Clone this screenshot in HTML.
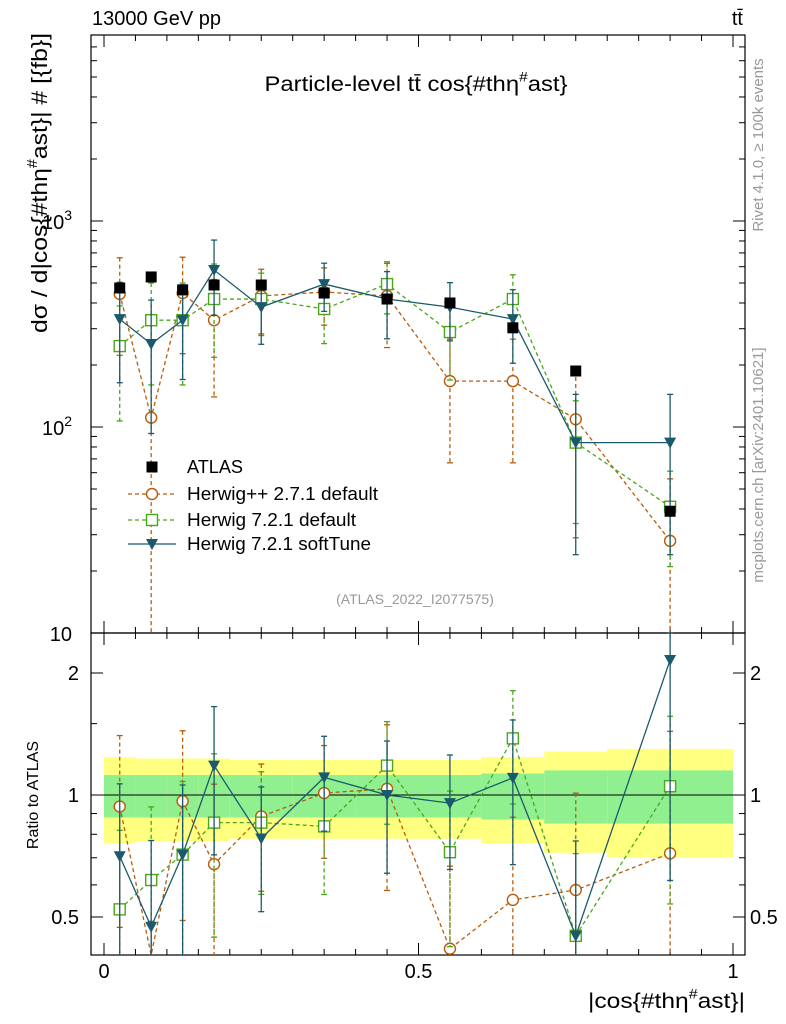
<!DOCTYPE html>
<html><head><meta charset="utf-8">
<style>
body{margin:0;background:#fff;}
svg{display:block;font-family:"Liberation Sans",sans-serif;}
</style></head>
<body>
<svg id="c" width="786" height="1024" viewBox="0 0 786 1024"></svg>
<script>
const binEdges=[0,0.05,0.1,0.15,0.2,0.3,0.4,0.5,0.6,0.7,0.8,1.0];
const xCenters=[0.025,0.075,0.125,0.175,0.25,0.35,0.45,0.55,0.65,0.75,0.9];
const atlas=[473,535,463,489,489,447,418,400,303,187,39];
const hpp=[443,111,447,330,433,452,433,167,167,109,28];
const hppErr=[220,150,220,190,150,140,190,100,100,80,28];
const h7def=[247,330,330,418,418,374,494,289,418,84,41];
const h7defErr=[140,170,170,200,140,120,140,120,130,50,20];
const h7soft=[334,253,330,578,382,494,418,382,334,84,84];
const h7softErr=[170,160,160,230,130,130,150,120,130,60,60];
const bandTot=[0.24,0.23,0.23,0.23,0.22,0.22,0.22,0.22,0.24,0.28,0.3];
const bandStat=[0.12,0.12,0.12,0.12,0.12,0.12,0.12,0.12,0.13,0.15,0.15];
const xTickLabels=["0","0.5","1"];
const yTickLabels=["10","10","10"];

const NS="http://www.w3.org/2000/svg";
const svg=document.getElementById('c');
function el(t,a,p){const e=document.createElementNS(NS,t);for(const k in a)e.setAttribute(k,a[k]);(p||svg).appendChild(e);return e;}
const X0=91,X1=745,MT=35,MB=633,RB=955;
const xs=v=>104+629*v;
const ym=v=>221-206*(Math.log10(Math.max(v,1e-3))-3);
const yr=r=>795-122*Math.log2(Math.max(r,1e-3));
const cm=(y)=>Math.max(MT,Math.min(MB,y));
const cr=(y)=>Math.max(MB,Math.min(RB,y));

const gb=el('g',{});


for(let i=0;i<xCenters.length;i++){
  const xa=xs(binEdges[i]),xb=xs(binEdges[i+1]);
  const r1=el('rect',{x:xa,y:yr(1+bandTot[i]),width:xb-xa,height:yr(1-bandTot[i])-yr(1+bandTot[i]),fill:'#ffff80'},gb);
  
  
  const r2=el('rect',{x:xa,y:yr(1+bandStat[i]),width:xb-xa,height:yr(1-bandStat[i])-yr(1+bandStat[i]),fill:'#90f090'},gb);
  
  
}
el('line',{x1:X0,x2:X1,y1:yr(1),y2:yr(1),stroke:'#000','stroke-width':1});

const f1=el('rect',{x:X0,y:MT,width:X1-X0,height:MB-MT,fill:'none',stroke:'#000','stroke-width':1.2});


const f2=el('rect',{x:X0,y:MB,width:X1-X0,height:RB-MB,fill:'none',stroke:'#000','stroke-width':1.2});



for(let k=0;k<=20;k++){const v=k*0.05;const x=xs(v);const L=(k%10==0)?12:6;
  for(const[yb,yt] of [[MB,MT],[RB,MB]]){el('line',{x1:x,x2:x,y1:yb,y2:yb-L,stroke:'#000'});el('line',{x1:x,x2:x,y1:yt,y2:yt+L,stroke:'#000'});}}
xTickLabels.forEach((t,i)=>{const e=el('text',{x:xs(i*0.5),y:978,'font-size':20,'text-anchor':'middle'});e.textContent=t;
  
  });

function sup(parent,pre,post,fs){const t1=el('tspan',{},parent);t1.textContent=pre;const s=el('tspan',{dy:-fs*0.45,'font-size':fs*0.65},parent);s.textContent='#';const t2=el('tspan',{dy:fs*0.45},parent);t2.textContent=post;}

const xt=el('text',{x:745,y:1008,'font-size':21,'text-anchor':'end',textLength:157,lengthAdjust:'spacingAndGlyphs'});
sup(xt,'|cos{#thη','ast}|',21);



for(let d=1;d<=3;d++){for(let m=1;m<10;m++){const v=m*Math.pow(10,d);const y=ym(v);if(y<MT||y>MB)continue;const L=m==1?12:6;
  el('line',{x1:X0,x2:X0+L,y1:y,y2:y,stroke:'#000'});el('line',{x1:X1,x2:X1-L,y1:y,y2:y,stroke:'#000'});}}
yTickLabels.forEach((t,i)=>{const d=i+1;const g=el('text',{x:72,y:ym(Math.pow(10,d))+8,'font-size':20,'text-anchor':'end'});
  
  
  g.textContent=t; if(d>1){const s=el('tspan',{dy:-9,'font-size':14},g);s.textContent=String(d);}});
[0.5,0.6,0.7,0.8,0.9,1,1.5,2].forEach(r=>{const y=yr(r);const L=(r==0.5||r==1||r==2)?12:6;
  el('line',{x1:X0,x2:X0+L,y1:y,y2:y,stroke:'#000'});el('line',{x1:X1,x2:X1-L,y1:y,y2:y,stroke:'#000'});});
[["0.5",0.5],["1",1],["2",2]].forEach(([t,r])=>{for(const [x,a] of [[79,'end'],[750,'start']]){const e=el('text',{x:x,y:yr(r)+7,'font-size':20,'text-anchor':a});e.textContent=t;
  
  }});

function series(vals,errs,color,dash,marker,name,isRatio){
  const g=el('g',{});
  
  
  const Y=isRatio?(i,v)=>yr(v/atlas[i]):(i,v)=>ym(v);
  const C=isRatio?cr:cm;
  for(let i=0;i<vals.length;i++){
    if(errs){const x=xs(xCenters[i]);const yt=C(Y(i,vals[i]+errs[i]));const yb=C(vals[i]-errs[i]>0?Y(i,vals[i]-errs[i]):1e4);
      el('line',{x1:x,x2:x,y1:yt,y2:yb,stroke:color,'stroke-width':1.3,'stroke-dasharray':dash||'none'},g);
      el('line',{x1:x-3,x2:x+3,y1:yt,y2:yt,stroke:color,'stroke-width':1.3},g);
      if(yb<(isRatio?RB:MB))el('line',{x1:x-3,x2:x+3,y1:yb,y2:yb,stroke:color,'stroke-width':1.3},g);}
  }
  let d='';for(let i=0;i<vals.length;i++){d+=(i?'L':'M')+xs(xCenters[i])+','+C(Y(i,vals[i]));}
  if(marker!=='sq-black')el('path',{d:d,fill:'none',stroke:color,'stroke-width':1.3,'stroke-dasharray':dash||'none'},g);
  for(let i=0;i<vals.length;i++){const x=xs(xCenters[i]),y=Y(i,vals[i]);if(y<(isRatio?MB:MT)||y>(isRatio?RB:MB))continue;
    drawMarker(g,marker,x,y,color);}
}
function drawMarker(g,marker,x,y,color){
  let m;
  if(marker==='sq-black')m=el('rect',{x:x-5.5,y:y-5.5,width:11,height:11,fill:'#000'},g);
  else if(marker==='circle')m=el('circle',{cx:x,cy:y,r:5.5,fill:'#fff',stroke:color,'stroke-width':1.4},g);
  else if(marker==='sq-open')m=el('rect',{x:x-5.5,y:y-5.5,width:11,height:11,fill:'#fff',stroke:color,'stroke-width':1.4},g);
  else m=el('path',{d:`M${x-6},${y-5}L${x+6},${y-5}L${x},${y+6}Z`,fill:color},g);
  
  
}
const cO='#b85c0a',cG='#4aa61a',cB='#1b5a6c';
series(hpp,hppErr,cO,'4,3','circle','herwigpp-271-series',false);
series(h7def,h7defErr,cG,'4,3','sq-open','herwig-721-default-series',false);
series(h7soft,h7softErr,cB,null,'tri','herwig-721-softtune-series',false);
series(atlas,null,'#000',null,'sq-black','atlas-data-series',false);
series(hpp,hppErr,cO,'4,3','circle','herwigpp-ratio-series',true);
series(h7def,h7defErr,cG,'4,3','sq-open','herwig-default-ratio-series',true);
series(h7soft,h7softErr,cB,null,'tri','herwig-softtune-ratio-series',true);

const leg=el('g',{});


const entries=[['ATLAS','#000',null,'sq-black',56],['Herwig++ 2.7.1 default',cO,'4,3','circle',191],['Herwig 7.2.1 default',cG,'4,3','sq-open',169],['Herwig 7.2.1 softTune',cB,null,'tri',184]];
const ly=[467,494,520,544];
entries.forEach((e,i)=>{const g=el('g',{},leg);
  
  
  if(i>0)el('line',{x1:128,x2:176,y1:ly[i],y2:ly[i],stroke:e[1],'stroke-width':1.3,'stroke-dasharray':e[2]||'none'},g);
  drawMarker(g,e[3],152,ly[i],e[1]);
  const t=el('text',{x:187,y:ly[i]+6,'font-size':18,textLength:e[4],lengthAdjust:'spacingAndGlyphs'},g);t.textContent=e[0];});

function txt(s,a,name){const t=el('text',a);t.textContent=s;return t;}
txt('13000 GeV pp',{x:92,y:25,'font-size':20},'energy-label');
txt('tt̄',{x:743,y:25,'font-size':20,'text-anchor':'end'},'process-label');
const ttl=txt('',{x:416,y:91,'font-size':21,'text-anchor':'middle',textLength:303,lengthAdjust:'spacingAndGlyphs'},'plot-title');
sup(ttl,'Particle-level tt̄ cos{#thη','ast}',21);
const yt=txt('',{x:0,y:0,'font-size':22,'text-anchor':'end',textLength:300,lengthAdjust:'spacingAndGlyphs',transform:'translate(47,33) rotate(-90)'},'y-axis-title');
sup(yt,'dσ / d|cos{#thη','ast}| # [{fb}]',22);
txt('Ratio to ATLAS',{x:0,y:0,'font-size':16,'text-anchor':'middle',transform:'translate(38,795) rotate(-90)'},'ratio-y-axis-title');
txt('(ATLAS_2022_I2077575)',{x:415,y:604,'font-size':14,fill:'#999','text-anchor':'middle'},'analysis-id');
txt('Rivet 4.1.0, ≥ 100k events',{x:0,y:0,'font-size':15,fill:'#999','text-anchor':'middle',transform:'translate(763,145) rotate(-90)'},'rivet-version-label');
txt('mcplots.cern.ch [arXiv:2401.10621]',{x:0,y:0,'font-size':15,fill:'#999','text-anchor':'middle',transform:'translate(763,465) rotate(-90)'},'mcplots-label');
</script>
</body></html>
